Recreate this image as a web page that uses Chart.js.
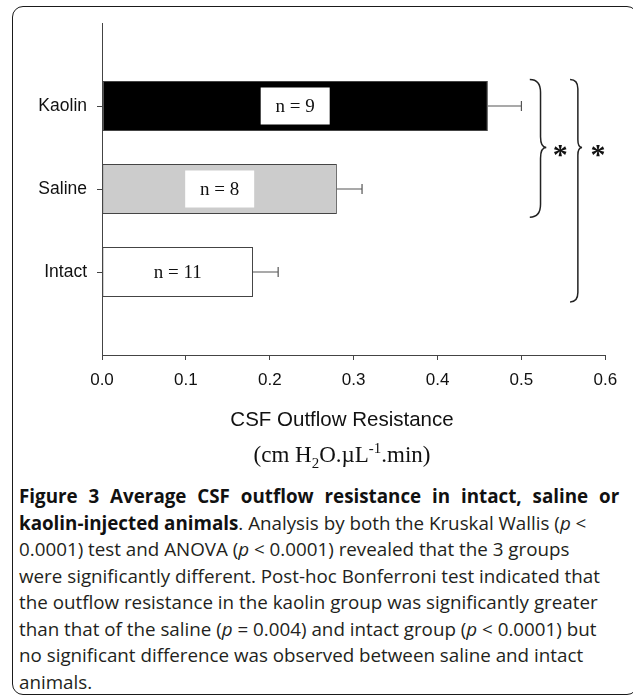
<!DOCTYPE html>
<html>
<head>
<meta charset="utf-8">
<script src="https://cdn.jsdelivr.net/npm/chart.js@4.4.0/dist/chart.umd.min.js"></script>
<style>
  html, body { margin: 0; padding: 0; background: #fff; }
  body { width: 633px; height: 696px; position: relative; overflow: hidden; }
  #frame { position: absolute; left: 12px; top: 6px; width: 626px; height: 689px; border: 1.5px solid #1a1a1a; border-radius: 11px; box-sizing: border-box; }
  #grafico { position: absolute; left: 0; top: 0; }
  .tituloEje { position: absolute; left: 142px; width: 400px; text-align: center; color: #111; line-height: 24px; white-space: nowrap; }
  #titulo1 { top: 407px; font-family: "Liberation Sans", Arial, sans-serif; font-size: 20.5px; }
  #titulo2 { top: 443px; font-family: "Liberation Serif", "Times New Roman", serif; font-size: 23px; }
  #titulo2 sub, #titulo2 sup { font-size: 65%; line-height: 0; }
  #leyenda { position: absolute; left: 19px; top: 483px; font-family: "Open Sans", sans-serif; font-size: 18.8px; line-height: 26.5px; color: #231f20; white-space: nowrap; }
  #leyenda b { color: #111; }
  #linea1 { word-spacing: 6px; }
</style>
</head>
<body>
<div id="frame"></div>
<canvas id="grafico" width="633" height="440"></canvas>
<div class="tituloEje" id="titulo1">CSF Outflow Resistance</div>
<div class="tituloEje" id="titulo2">(cm H<sub>2</sub>O.µL<sup>-1</sup>.min)</div>
<div id="leyenda"><b><span id="linea1">Figure 3 Average CSF outflow resistance in intact, saline or</span><br>kaolin-injected animals</b>. Analysis by both the Kruskal Wallis (<i>p</i> &lt;<br>0.0001) test and ANOVA (<i>p</i> &lt; 0.0001) revealed that the 3 groups<br>were significantly different. Post-hoc Bonferroni test indicated that<br>the outflow resistance in the kaolin group was significantly greater<br>than that of the saline (<i>p</i> = 0.004) and intact group (<i>p</i> &lt; 0.0001) but<br>no significant difference was observed between saline and intact<br>animals.</div>

<script>
const categorias = ["Kaolin", "Saline", "Intact"];
const medias = [0.46, 0.28, 0.18];
const errores = [0.04, 0.03, 0.03];
const tamanos = [9, 8, 11];
const coloresBarra = ["#000000", "#cccccc", "#ffffff"];
const ticksX = [0, 0.1, 0.2, 0.3, 0.4, 0.5, 0.6];

// huecos arriba y abajo para que las barras queden como en la figura
const etiquetas = ["", ...categorias, ""];
const datos = [null, ...medias, null];

function llave(ctx, x, arriba, medio, abajo, ancho) {
    const xv = x + ancho * 0.65;
    const r = ancho * 0.65;
    ctx.beginPath();
    ctx.moveTo(x, arriba);
    ctx.quadraticCurveTo(xv, arriba, xv, arriba + r * 1.2);
    ctx.lineTo(xv, medio - r);
    ctx.quadraticCurveTo(xv, medio, x + ancho, medio);
    ctx.quadraticCurveTo(xv, medio, xv, medio + r);
    ctx.lineTo(xv, abajo - r * 1.2);
    ctx.quadraticCurveTo(xv, abajo, x, abajo);
    ctx.stroke();
}

const extras = {
    id: "extras",
    afterDatasetsDraw(chart) {
        const ctx = chart.ctx;
        const sx = chart.scales.x;
        const sy = chart.scales.y;
        const meta = chart.getDatasetMeta(0);
        ctx.save();

        // barras de error
        ctx.strokeStyle = "#555";
        ctx.lineWidth = 1.2;
        categorias.forEach((c, i) => {
            const barra = meta.data[i + 1];
            const x0 = sx.getPixelForValue(medias[i]);
            const x1 = sx.getPixelForValue(medias[i] + errores[i]);
            ctx.beginPath();
            ctx.moveTo(x0, barra.y);
            ctx.lineTo(x1, barra.y);
            ctx.moveTo(x1, barra.y - 5);
            ctx.lineTo(x1, barra.y + 5);
            ctx.stroke();
        });

        // cajas con n
        ctx.font = "19px 'Liberation Serif', serif";
        ctx.textAlign = "center";
        ctx.textBaseline = "middle";
        categorias.forEach((c, i) => {
            const barra = meta.data[i + 1];
            const cx = (barra.base + barra.x) / 2;
            ctx.fillStyle = "#fff";
            ctx.fillRect(cx - 34.5, barra.y - 18.5, 69, 37);
            ctx.fillStyle = "#111";
            ctx.fillText(`n = ${tamanos[i]}`, cx, barra.y + 1);
        });

        // llaves y asteriscos
        ctx.strokeStyle = "#222";
        ctx.lineWidth = 1.5;
        const arriba = sy.getPixelForValue(1 - 0.32);
        const medio = sy.getPixelForValue(1.5);
        const xa = sx.getPixelForValue(0.51);
        const xb = sx.getPixelForValue(0.558);
        llave(ctx, xa, arriba, medio, sy.getPixelForValue(2 + 0.34), 16.5);
        llave(ctx, xb, arriba, medio, sy.getPixelForValue(3 + 0.36), 12);
        ctx.fillStyle = "#111";
        ctx.font = "bold 30px 'Liberation Serif', serif";
        ctx.textBaseline = "alphabetic";
        ctx.fillText("*", xa + 16.5 + 14, medio + 16);
        ctx.fillText("*", xb + 12 + 16, medio + 16);
        ctx.restore();
    }
};

new Chart(document.getElementById("grafico"), {
    type: "bar",
    data: {
        labels: etiquetas,
        datasets: [{
            data: datos,
            backgroundColor: ["#fff", ...coloresBarra, "#fff"],
            borderColor: "#444",
            borderWidth: 1,
            borderSkipped: false,
            barPercentage: 0.6,
            categoryPercentage: 1
        }]
    },
    options: {
        indexAxis: "y",
        responsive: false,
        devicePixelRatio: 1,
        animation: false,
        layout: { padding: { top: 23, right: 27.7, left: 0, bottom: 0 } },
        plugins: { legend: { display: false }, tooltip: { enabled: false } },
        scales: {
            x: {
                type: "linear",
                min: 0,
                max: 0.6,
                afterBuildTicks: s => { s.ticks = ticksX.map(v => ({ value: v })); },
                afterFit: s => { s.height = 85; },
                grid: { drawOnChartArea: false, tickLength: 5, tickColor: "#444", tickWidth: 1 },
                border: { color: "#444", width: 1 },
                ticks: {
                    padding: 10,
                    color: "#111",
                    font: { family: "'Liberation Sans', Arial", size: 17 },
                    callback: v => Number(v).toFixed(1)
                }
            },
            y: {
                type: "category",
                offset: false,
                afterFit: s => { s.width = 102; },
                grid: {
                    drawOnChartArea: false,
                    offset: false,
                    tickLength: 5,
                    tickWidth: 1,
                    tickColor: c => (c.tick && c.tick.label) ? "#444" : "rgba(0,0,0,0)"
                },
                border: { color: "#444", width: 1 },
                ticks: {
                    autoSkip: false,
                    padding: 10,
                    color: "#111",
                    font: { family: "'Liberation Sans', Arial", size: 17.5 }
                }
            }
        }
    },
    plugins: [extras]
});
</script>
</body>
</html>
